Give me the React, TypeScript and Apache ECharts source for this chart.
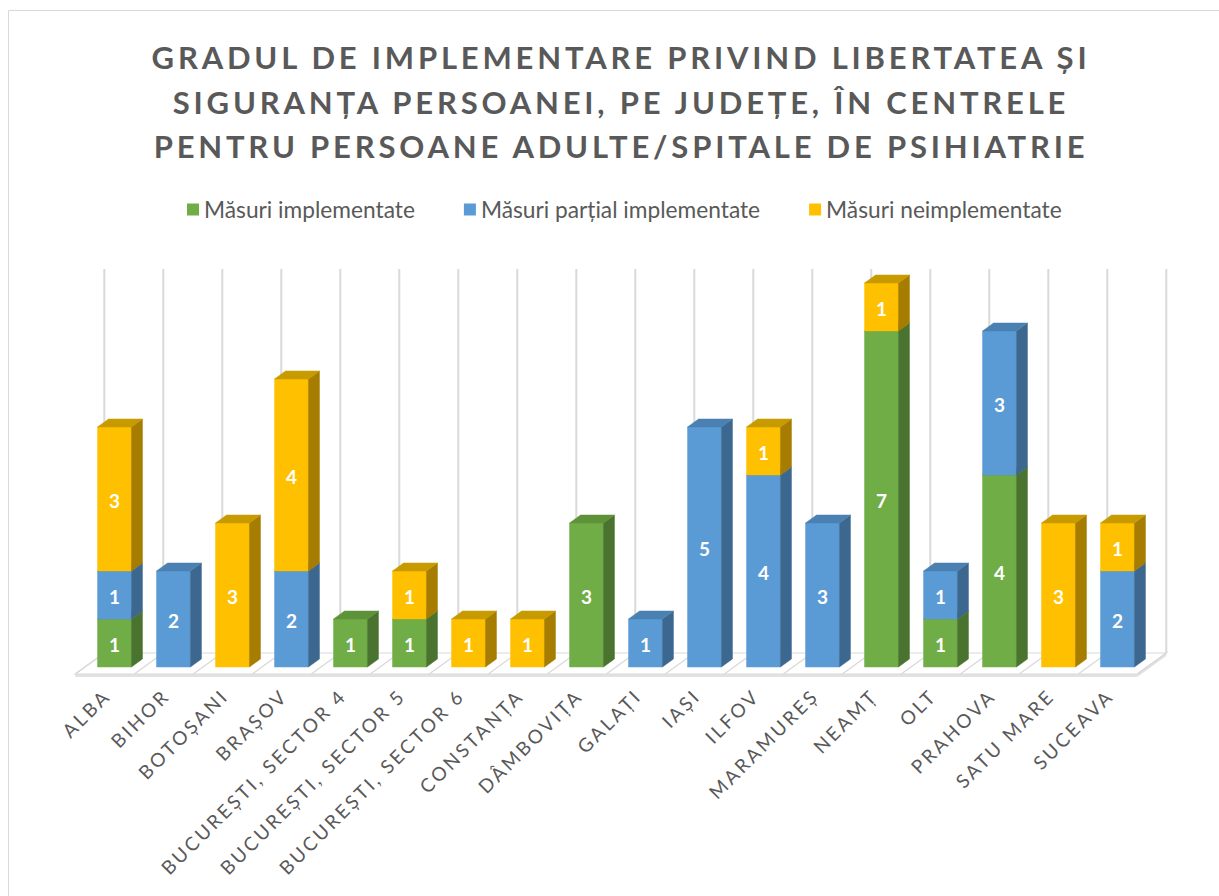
import React, { useEffect, useRef } from "react";
import * as echarts from "echarts";

const categories = [
  "ALBA", "BIHOR", "BOTOȘANI", "BRAȘOV", "BUCUREȘTI, SECTOR 4", "BUCUREȘTI, SECTOR 5",
  "BUCUREȘTI, SECTOR 6", "CONSTANȚA", "DÂMBOVIȚA", "GALAȚI", "IAȘI", "ILFOV",
  "MARAMUREȘ", "NEAMȚ", "OLT", "PRAHOVA", "SATU MARE", "SUCEAVA",
];
const implemented = [1, 0, 0, 0, 1, 1, 0, 0, 3, 0, 0, 0, 0, 7, 1, 4, 0, 0];
const partial = [1, 2, 0, 2, 0, 0, 0, 0, 0, 1, 5, 4, 3, 0, 1, 3, 0, 2];
const notImplemented = [3, 0, 3, 4, 0, 1, 1, 1, 0, 0, 0, 1, 0, 1, 0, 0, 3, 1];
const seriesNames = ["Măsuri implementate", "Măsuri parțial implementate", "Măsuri neimplementate"];
const yMax = 8;
const titleLines = [
  "GRADUL DE IMPLEMENTARE PRIVIND LIBERTATEA ȘI",
  "SIGURANȚA PERSOANEI, PE JUDEȚE, ÎN CENTRELE",
  "PENTRU PERSOANE ADULTE/SPITALE DE PSIHIATRIE",
];

const palette = [
  { front: "#70AD47", side: "#4A7330", top: "#5E9239" },
  { front: "#5B9BD5", side: "#3C6890", top: "#4A80B2" },
  { front: "#FFC000", side: "#A67D00", top: "#C79A00" },
];

const BAR_RATIO = 0.575;
const DX = 11;
const DY = 8;
const FRONT = [-9.7, 7];
const BACK = [19.3, -14];
const LABEL_DROP = 20;
const LABEL_SIZE = 19;
const GRID_COLOR = "#d9d9d9";
const TEXT_COLOR = "#595959";
const FONT = "Lato";

const measure = (text: string, font: string) => {
  const ctx = document.createElement("canvas").getContext("2d")!;
  ctx.font = font;
  return ctx.measureText(text).width;
};

export default function App() {
  const ref = useRef<HTMLDivElement>(null);

  useEffect(() => {
    if (!ref.current) return;
    const chart = echarts.init(ref.current, undefined, { renderer: "svg" });

    const titleFont = `bold 31px ${FONT}`;
    const labelFont = `normal ${LABEL_SIZE}px ${FONT}`;
    const titleSpacing = (937 - measure(titleLines[0], titleFont)) / (titleLines[0].length - 1);
    const labelSpacing = (250 - measure(categories[4], labelFont)) / (categories[4].length - 1);
    const legendSize = 18 * 211 / measure(seriesNames[0], `18px ${FONT}`);

    const stacks = [implemented, partial, notImplemented];
    const bases = stacks.map((_, k) =>
      categories.map((__, i) => stacks.slice(0, k).reduce((s, arr) => s + arr[i], 0))
    );

    const makeBarRender = (k: number) => (params: any, api: any) => {
      const i = api.value(0);
      const base = api.value(1);
      const v = api.value(2);
      if (!v) return { type: "group", children: [] };
      const c = palette[k];
      const p0 = api.coord([i, base]);
      const p1 = api.coord([i, base + v]);
      const bw = api.size([1, 0])[0] * BAR_RATIO;
      const xl = p0[0] - bw / 2;
      const xr = p0[0] + bw / 2;
      const yb = p0[1];
      const yt = p1[1];
      return {
        type: "group",
        children: [
          { type: "rect", shape: { x: xl, y: yt, width: bw, height: yb - yt }, style: { fill: c.front, stroke: c.front, lineWidth: 0.5 } },
          { type: "polygon", shape: { points: [[xr, yb], [xr + DX, yb - DY], [xr + DX, yt - DY], [xr, yt]] }, style: { fill: c.side, stroke: c.side, lineWidth: 0.5 } },
          { type: "polygon", shape: { points: [[xl, yt], [xl + DX, yt - DY], [xr + DX, yt - DY], [xr, yt]] }, style: { fill: c.top, stroke: c.top, lineWidth: 0.5 } },
          {
            type: "text",
            style: {
              text: String(v), x: (xl + xr) / 2, y: (yt + yb) / 2 + 1, align: "center", verticalAlign: "middle",
              fill: "#ffffff", fontFamily: FONT, fontWeight: "bold", fontSize: 19,
            },
          },
        ],
      };
    };

    const floorRender = (params: any, api: any) => {
      const i = api.value(0);
      const n = categories.length;
      const bw = api.size([1, 0])[0];
      const p = api.coord([i, 0]);
      const pTop = api.coord([i, yMax]);
      const xl = p[0] - bw / 2;
      const y0 = p[1];
      const children: any[] = [];
      if (i === 0) {
        const pl = api.coord([n - 1, 0]);
        const xR = pl[0] + bw / 2;
        const FL = [xl + FRONT[0], y0 + FRONT[1]];
        const FR = [xR + FRONT[0], y0 + FRONT[1]];
        const BR = [xR + BACK[0], y0 + BACK[1]];
        const BL = [xl + BACK[0], y0 + BACK[1]];
        children.push({ type: "polygon", shape: { points: [FL, FR, [FR[0], FR[1] + 3], [FL[0], FL[1] + 3]] }, style: { fill: "#e2e2e2" } });
        children.push({ type: "polygon", shape: { points: [FR, BR, [BR[0], BR[1] + 3], [FR[0], FR[1] + 3]] }, style: { fill: "#e2e2e2" } });
        children.push({ type: "polygon", shape: { points: [FL, FR, BR, BL] }, style: { fill: "#ffffff", stroke: GRID_COLOR, lineWidth: 1.2 } });
      }
      const bounds = i === n - 1 ? [xl, xl + bw] : [xl];
      bounds.forEach((x) => {
        children.push({ type: "line", shape: { x1: x + FRONT[0], y1: y0 + FRONT[1], x2: x + BACK[0], y2: y0 + BACK[1] }, style: { stroke: GRID_COLOR, lineWidth: 1.3 } });
        children.push({ type: "line", shape: { x1: x + BACK[0], y1: y0 + BACK[1], x2: x + BACK[0], y2: pTop[1] + BACK[1] }, style: { stroke: GRID_COLOR, lineWidth: 2 } });
      });
      return { type: "group", children };
    };

    const labelRender = (params: any, api: any) => {
      const i = api.value(0);
      const p = api.coord([i, 0]);
      const k = Math.SQRT1_2 * labelSpacing;
      return {
        type: "text",
        x: p[0] + FRONT[0] + k,
        y: p[1] + FRONT[1] + LABEL_DROP - k,
        rotation: Math.PI / 4,
        style: {
          text: categories[i], x: 0, y: 0, align: "right", verticalAlign: "middle",
          fill: TEXT_COLOR, fontFamily: FONT, fontSize: LABEL_SIZE,
        },
      };
    };

    const option: any = {
      animation: false,
      backgroundColor: "#ffffff",
      title: {
        text: titleLines.join("\n"),
        left: 616,
        top: 30,
        textAlign: "center",
        textStyle: { fontFamily: FONT, fontWeight: "bold", fontSize: 31, color: TEXT_COLOR, lineHeight: 44.5 },
      },
      legend: {
        left: 182,
        top: 193,
        icon: "rect",
        itemWidth: 12,
        itemHeight: 12,
        itemGap: 49,
        textStyle: { fontFamily: FONT, fontSize: legendSize, color: TEXT_COLOR },
        data: seriesNames,
      },
      graphic: [
        { type: "rect", silent: true, shape: { x: 8.5, y: 10.5, width: 1240, height: 900 }, style: { fill: "none", stroke: GRID_COLOR, lineWidth: 1 } },
      ],
      grid: { left: 85, right: 72, top: 283, bottom: 229 },
      xAxis: { type: "category", data: categories, show: false },
      yAxis: { type: "value", min: 0, max: yMax, show: false },
      series: [
        {
          type: "custom", name: "floor", silent: true,
          renderItem: floorRender, data: categories.map((_, i) => [i, 0]), encode: { x: 0, y: 1 }, z: 1,
        },
        ...seriesNames.map((name, k) => ({
          type: "custom", name,
          itemStyle: { color: palette[k].front },
          renderItem: makeBarRender(k),
          data: categories.map((_, i) => [i, bases[k][i], stacks[k][i]]),
          encode: { x: 0, y: 2 }, z: 2 + k,
        })),
        {
          type: "custom", name: "labels", silent: true,
          renderItem: labelRender, data: categories.map((_, i) => [i, 0]), encode: { x: 0, y: 1 }, z: 10,
        },
      ],
    };

    chart.setOption(option);

    const applySpacing = () => {
      if (!ref.current) return;
      ref.current.querySelectorAll("text").forEach((t) => {
        const s = t.textContent || "";
        if (titleLines.includes(s)) (t as any).style.letterSpacing = `${titleSpacing}px`;
        else if (categories.includes(s)) (t as any).style.letterSpacing = `${labelSpacing}px`;
      });
    };
    applySpacing();
    chart.on("finished", applySpacing);
    const timer = setTimeout(applySpacing, 50);

    return () => {
      clearTimeout(timer);
      chart.dispose();
    };
  }, []);

  return <div ref={ref} style={{ position: "absolute", left: 0, top: 0, width: 1219, height: 896 }} />;
}
